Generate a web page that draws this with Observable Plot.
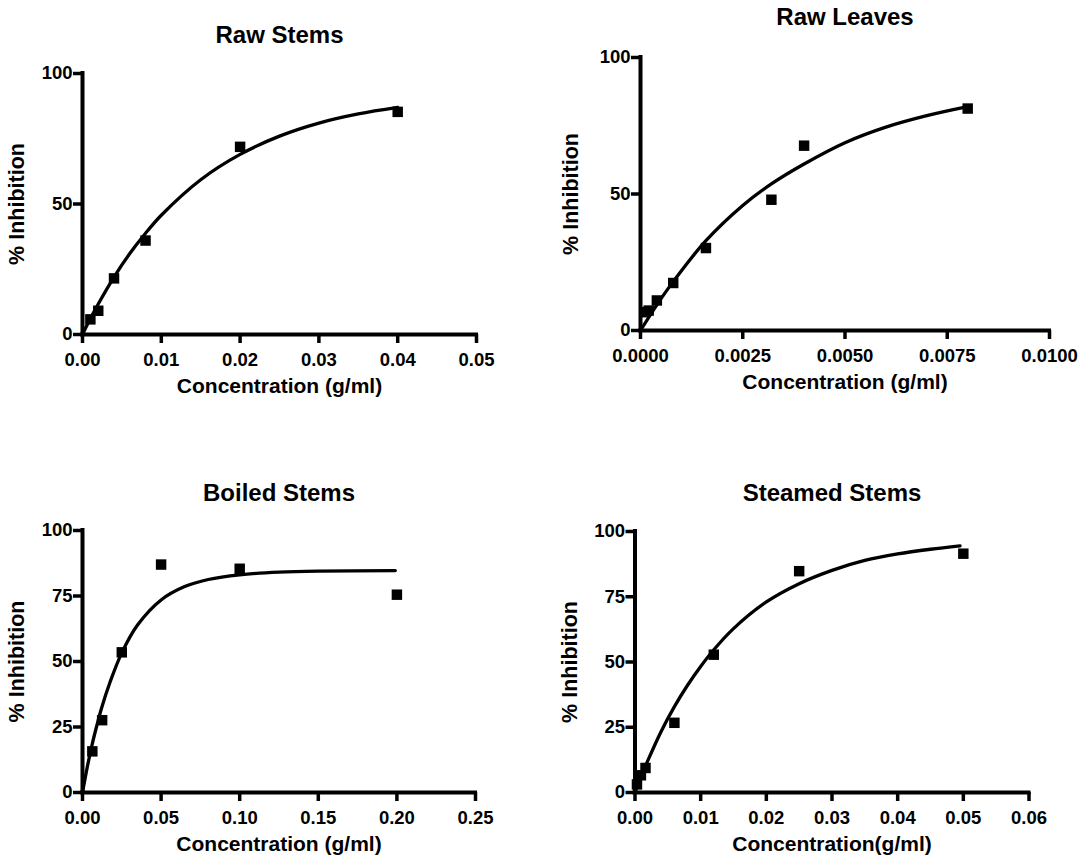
<!DOCTYPE html>
<html><head><meta charset="utf-8">
<script src="https://cdn.jsdelivr.net/npm/d3@7"></script>
<script src="https://cdn.jsdelivr.net/npm/@observablehq/plot@0.6"></script>
<style>
html,body{margin:0;padding:0;background:#fff;}
#chart{position:relative;width:1085px;height:866px;overflow:hidden;background:#fff;}
</style></head><body><div id="chart"></div>
<script>
// ---- Raw Stems ----
const rawStemsConc = [0.001, 0.002, 0.004, 0.008, 0.02, 0.04];
const rawStemsInh  = [5.8, 9.1, 21.5, 36.0, 71.9, 85.3];
const rawStemsFitConc = [0, 0.001, 0.002, 0.004, 0.006, 0.008, 0.010, 0.015, 0.020, 0.025, 0.030, 0.035, 0.040];
const rawStemsFitInh  = [0, 6.1, 11.7, 22.0, 31.0, 38.8, 45.7, 59.3, 69.0, 76.0, 81.0, 84.5, 87.0];
const rawStemsXTicks  = [0, 0.01, 0.02, 0.03, 0.04, 0.05];
const rawStemsXLabels = ["0.00", "0.01", "0.02", "0.03", "0.04", "0.05"];
const rawStemsYTicks  = [0, 50, 100];
const rawStemsYLabels = ["0", "50", "100"];

// ---- Raw Leaves ----
const rawLeavesConc = [0.0001, 0.0002, 0.0004, 0.0008, 0.0016, 0.0032, 0.004, 0.008];
const rawLeavesInh  = [6.7, 7.3, 11.0, 17.4, 30.2, 47.9, 67.7, 81.3];
const rawLeavesFitConc = [0, 0.0004, 0.0008, 0.0016, 0.0025, 0.0032, 0.004, 0.005, 0.006, 0.007, 0.008];
const rawLeavesFitInh  = [0, 9.4, 17.9, 32.9, 45.8, 53.7, 61.0, 68.8, 74.5, 78.7, 82.0];
const rawLeavesXTicks  = [0, 0.0025, 0.005, 0.0075, 0.01];
const rawLeavesXLabels = ["0.0000", "0.0025", "0.0050", "0.0075", "0.0100"];
const rawLeavesYTicks  = [0, 50, 100];
const rawLeavesYLabels = ["0", "50", "100"];

// ---- Boiled Stems ----
const boiledConc = [0.00625, 0.0125, 0.025, 0.05, 0.1, 0.2];
const boiledInh  = [15.7, 27.6, 53.5, 87.0, 85.4, 75.5];
const boiledFitConc = [0, 0.003, 0.006, 0.009, 0.012, 0.0175, 0.025, 0.035, 0.05, 0.065, 0.08, 0.1, 0.125, 0.15, 0.199];
const boiledFitInh  = [0, 9.6, 18.0, 25.3, 32.0, 42.1, 53.3, 63.9, 73.5, 78.6, 81.3, 83.1, 84.1, 84.5, 84.7];
const boiledXTicks  = [0, 0.05, 0.1, 0.15, 0.2, 0.25];
const boiledXLabels = ["0.00", "0.05", "0.10", "0.15", "0.20", "0.25"];
const boiledYTicks  = [0, 25, 50, 75, 100];
const boiledYLabels = ["0", "25", "50", "75", "100"];

// ---- Steamed Stems ----
const steamedConc = [0.0003, 0.0009, 0.0016, 0.006, 0.012, 0.025, 0.05];
const steamedInh  = [3.1, 6.6, 9.4, 26.7, 52.8, 84.8, 91.5];
const steamedFitConc = [0, 0.001, 0.002, 0.004, 0.006, 0.008, 0.010, 0.012, 0.015, 0.020, 0.025, 0.030, 0.035, 0.040, 0.045, 0.0495];
const steamedFitInh  = [0, 6.5, 12.5, 23.5, 32.9, 41.1, 48.3, 54.7, 62.8, 73.0, 80.0, 85.1, 88.9, 91.4, 93.2, 94.5];
const steamedXTicks  = [0, 0.01, 0.02, 0.03, 0.04, 0.05, 0.06];
const steamedXLabels = ["0.00", "0.01", "0.02", "0.03", "0.04", "0.05", "0.06"];
const steamedYTicks  = [0, 25, 50, 75, 100];
const steamedYLabels = ["0", "25", "50", "75", "100"];

const titles  = ["Raw Stems", "Raw Leaves", "Boiled Stems", "Steamed Stems"];
const xTitles = ["Concentration (g/ml)", "Concentration (g/ml)", "Concentration (g/ml)", "Concentration(g/ml)"];
const yTitle  = "% Inhibition";

const FONT = "'Liberation Sans', Arial, Helvetica, sans-serif";

const panels = [
  {conc: rawStemsConc, inh: rawStemsInh, fc: rawStemsFitConc, fi: rawStemsFitInh,
   xt: rawStemsXTicks, xl: rawStemsXLabels, yt: rawStemsYTicks, yl: rawStemsYLabels,
   title: titles[0], xTitle: xTitles[0],
   L: 0, T: 0, W: 540, H: 420, x0: 82, x1: 476, y0: 73, y1: 334, titleDy: -48, yDx: -73.5},
  {conc: rawLeavesConc, inh: rawLeavesInh, fc: rawLeavesFitConc, fi: rawLeavesFitInh,
   xt: rawLeavesXTicks, xl: rawLeavesXLabels, yt: rawLeavesYTicks, yl: rawLeavesYLabels,
   title: titles[1], xTitle: xTitles[1],
   L: 540, T: 0, W: 545, H: 420, x0: 640, x1: 1049, y0: 57, y1: 330, titleDy: -50, yDx: -77.5},
  {conc: boiledConc, inh: boiledInh, fc: boiledFitConc, fi: boiledFitInh,
   xt: boiledXTicks, xl: boiledXLabels, yt: boiledYTicks, yl: boiledYLabels,
   title: titles[2], xTitle: xTitles[2],
   L: 0, T: 420, W: 540, H: 446, x0: 82, x1: 475, y0: 530, y1: 792, titleDy: -47, yDx: -73.5},
  {conc: steamedConc, inh: steamedInh, fc: steamedFitConc, fi: steamedFitInh,
   xt: steamedXTicks, xl: steamedXLabels, yt: steamedYTicks, yl: steamedYLabels,
   title: titles[3], xTitle: xTitles[3],
   L: 540, T: 420, W: 545, H: 446, x0: 634.5, x1: 1028.5, y0: 531, y1: 792, titleDy: -48, yDx: -73}
];

const chart = document.getElementById("chart");

for (const p of panels) {
  const pts = p.conc.map((c, i) => ({x: c, y: p.inh[i]}));
  const fit = p.fc.map((c, i) => ({x: c, y: p.fi[i]}));
  const xmax = p.xt[p.xt.length - 1];
  const svg = Plot.plot({
    width: p.W, height: p.H,
    marginLeft: p.x0 - p.L, marginRight: p.L + p.W - p.x1,
    marginTop: p.y0 - p.T, marginBottom: p.T + p.H - p.y1,
    style: {fontFamily: FONT, fontWeight: "bold", color: "black", background: "white", overflow: "visible"},
    x: {type: "linear", domain: [0, xmax]},
    y: {type: "linear", domain: [0, 100]},
    marks: [
      Plot.axisX({anchor: "bottom", ticks: p.xt, tickFormat: d => p.xl[p.xt.indexOf(d)],
        tickSize: 9, tickPadding: 9, fontSize: 18.5, fontWeight: "bold", strokeWidth: 3.5, stroke: "black", label: null}),
      Plot.axisY({anchor: "left", ticks: p.yt, tickFormat: d => p.yl[p.yt.indexOf(d)],
        tickSize: 9, tickPadding: 1, fontSize: 18.5, fontWeight: "bold", strokeWidth: 3.5, stroke: "black", label: null}),
      Plot.ruleY([0], {x1: 0, x2: xmax, strokeWidth: 4, stroke: "black", strokeLinecap: "square"}),
      Plot.ruleX([0], {y1: 0, y2: 100, strokeWidth: 4, stroke: "black", strokeLinecap: "square"}),
      Plot.line(fit, {x: "x", y: "y", curve: "catmull-rom", stroke: "black", strokeWidth: 3.3}),
      Plot.dot(pts, {x: "x", y: "y", symbol: "square", r: 5.9, fill: "black", stroke: "none"}),
      Plot.text([p.title], {text: d => d, frameAnchor: "top", dy: p.titleDy, lineAnchor: "top",
        fontSize: 24, fontWeight: "bold", fill: "black"}),
      Plot.text([p.xTitle], {text: d => d, frameAnchor: "bottom", dy: 44, lineAnchor: "top",
        fontSize: 21, fontWeight: "bold", fill: "black"}),
      Plot.text([yTitle], {text: d => d, frameAnchor: "left", dx: p.yDx, rotate: -90, lineAnchor: "top",
        textAnchor: "middle", fontSize: 21.5, fontWeight: "bold", fill: "black"})
    ]
  });
  svg.querySelectorAll('g[aria-label$="axis tick"]').forEach(g => {
    g.setAttribute("stroke-width", "3.5");
    g.setAttribute("stroke", "black");
  });
  svg.querySelectorAll('g[aria-label$="axis tick label"]').forEach(g => {
    g.setAttribute("fill", "black");
  });
  svg.style.position = "absolute";
  svg.style.left = p.L + "px";
  svg.style.top = p.T + "px";
  chart.appendChild(svg);
}
</script>
</body></html>
